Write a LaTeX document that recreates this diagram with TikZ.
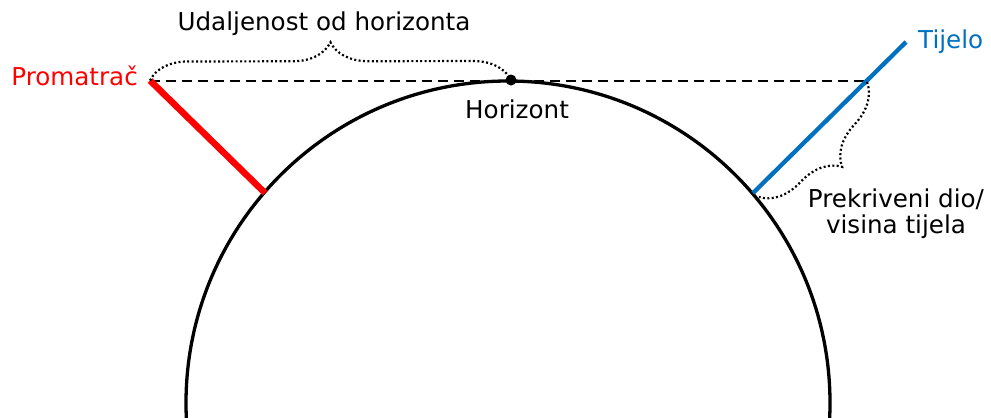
\documentclass[tikz,border=0pt]{standalone}
\usepackage{fontspec}
\setmainfont{DejaVu Sans}
\usetikzlibrary{decorations.pathreplacing}
\definecolor{tblue}{RGB}{0,112,192}
\begin{document}
\begin{tikzpicture}[x=1bp,y=-1bp,
  lbl/.style={font=\fontsize{24.6bp}{26bp}\selectfont, inner sep=0pt},
  ground/.style={line width=3.3bp},
  sight/.style={line width=2bp, dash pattern=on 10bp off 6bp},
  bracedot/.style={line width=2.2bp, dash pattern=on 2bp off 2.4bp, decorate},
]
\useasboundingbox (0,0) rectangle (991,417);
\begin{scope}
  \clip (0,0) rectangle (991,417);
  \coordinate (C) at (508,403);
  \draw[ground] (C) circle[radius=322];
\end{scope}
\coordinate (P) at (150,80.5);
\coordinate (R) at (265,193);
\coordinate (X) at (867,80.5);
\coordinate (B1) at (753,193);
\coordinate (B2) at (906,42);
\coordinate (Bb) at (759,197);
\draw[sight] (P) -- (X);
\draw[red, line width=6.5bp] (P) -- (R);
\draw[tblue, line width=4.3bp] (B1) -- (B2);
\node[circle, fill=black, inner sep=0pt, minimum size=11bp] (H) at (511,80) {};
\draw[bracedot, decoration={brace, amplitude=38bp}] (P) -- (H.center);
\draw[bracedot, decoration={brace, amplitude=40bp}] (867,82) -- (Bb);
\node[lbl, anchor=base east, text=red] (prom) at (138,85) {Promatrač};
\node[lbl, anchor=base] (udalj) at (324,30) {Udaljenost od horizonta};
\node[lbl, anchor=base west] (horiz) at (465,118) {Horizont};
\node[lbl, anchor=base west, text=tblue] (tij) at (918,48) {Tijelo};
\node[lbl, anchor=base] (prek1) at (896,207) {Prekriveni dio/};
\node[lbl, anchor=base] (prek2) at (896,233) {visina tijela};
\end{tikzpicture}
\end{document}
